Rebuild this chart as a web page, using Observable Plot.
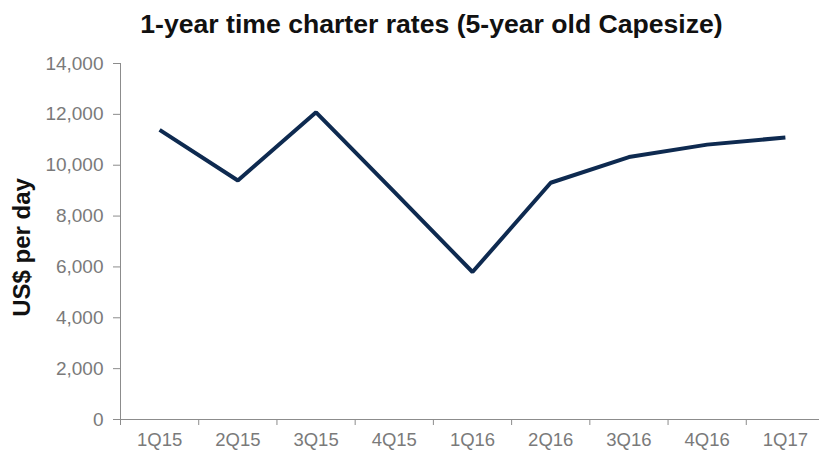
<!DOCTYPE html>
<html>
<head>
<meta charset="utf-8">
<script src="https://cdn.jsdelivr.net/npm/d3@7"></script>
<script src="https://cdn.jsdelivr.net/npm/@observablehq/plot@0.6"></script>
<style>
  html, body { margin: 0; padding: 0; background: #fff; }
  body { width: 819px; height: 452px; overflow: hidden; font-family: "Liberation Sans", Arial, sans-serif; }
  #title { height: 45px; line-height: 48px; font-size: 26.6px; font-weight: bold; color: #111; text-align: center; padding-left: 44px; box-sizing: border-box; white-space: nowrap; }
</style>
</head>
<body>
<div id="title">1-year time charter rates (5-year old Capesize)</div>
<div id="chart"></div>
<script>
const quarters = ["1Q15", "2Q15", "3Q15", "4Q15", "1Q16", "2Q16", "3Q16", "4Q16", "1Q17"];
const rates = [11390, 9400, 12080, 8950, 5800, 9310, 10320, 10810, 11090];
const yTicks = [0, 2000, 4000, 6000, 8000, 10000, 12000, 14000];

const data = quarters.map((q, i) => ({q, i, v: rates[i]}));
const axisGray = "#8c8c8c";
const labelGray = "#7a7a7a";

const plot = Plot.plot({
  width: 819,
  height: 407,
  marginLeft: 120,
  marginRight: -5,
  marginTop: 18,
  marginBottom: 33,
  style: { fontFamily: "'Liberation Sans', Arial, sans-serif", fontSize: "18px", color: labelGray, background: "#fff" },
  x: { type: "linear", domain: [0, quarters.length], axis: null },
  y: { domain: [0, 14000], axis: null },
  marks: [
    Plot.axisY({ ticks: yTicks, tickFormat: d3.format(","), tickSize: 7, tickPadding: 10, stroke: axisGray, fill: labelGray, fontSize: 19, label: null }),
    Plot.axisX({ ticks: d3.range(0, quarters.length + 1), tickFormat: () => "", tickSize: 6, stroke: axisGray, label: null }),
    Plot.axisX({ ticks: quarters.map((q, i) => i + 0.5), tickFormat: (d) => quarters[Math.floor(d)], tickSize: 0, tickPadding: 13, fill: labelGray, fontSize: 18.5, label: null }),
    Plot.ruleX([0], { stroke: axisGray, strokeWidth: 1 }),
    Plot.ruleY([0], { stroke: axisGray, strokeWidth: 1 }),
    Plot.line(data, { x: (d) => d.i + 0.5, y: "v", stroke: "#0e2a50", strokeWidth: 4, strokeLinejoin: "miter", strokeLinecap: "butt" }),
    Plot.text(["US$ per day"], { frameAnchor: "left", textAnchor: "middle", text: (d) => d, rotate: -90, dx: -98, dy: 6, fontSize: 24, fontWeight: "bold", fill: "#111" })
  ]
});
document.getElementById("chart").appendChild(plot);
</script>
</body>
</html>
